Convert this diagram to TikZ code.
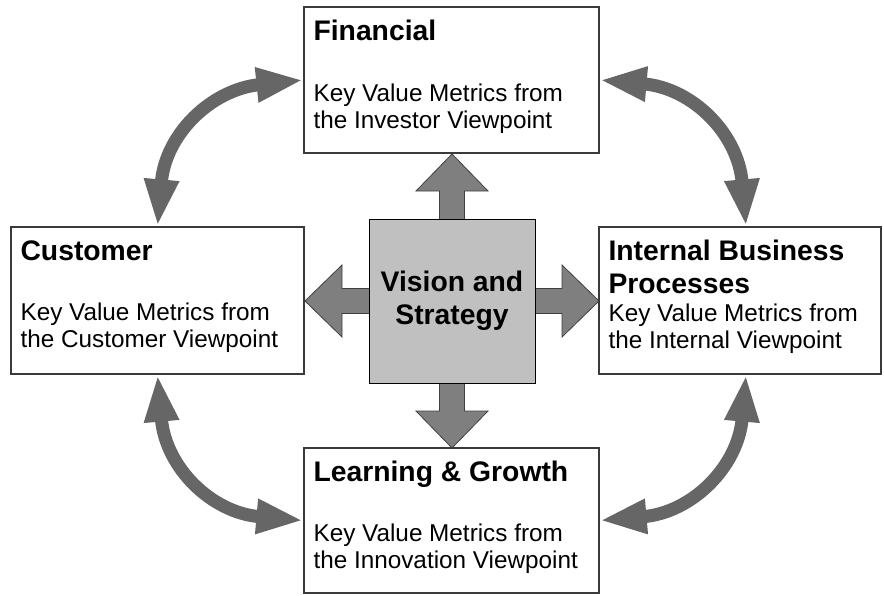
\documentclass[tikz,border=0pt]{standalone}
\usepackage{fontspec}
\setmainfont{Liberation Sans}
\usetikzlibrary{arrows.meta,calc,backgrounds}

\definecolor{boxline}{HTML}{3A3A3A}
\definecolor{arrowgray}{HTML}{7F7F7F}
\definecolor{curvegray}{HTML}{666666}
\definecolor{visgray}{HTML}{C0C0C0}

\newcommand\lines[1]{\begin{tabular}[t]{@{}l@{}}#1\end{tabular}}

\tikzset{
	card/.style={draw=boxline, line width=1.3pt, fill=white, inner sep=0pt},
	heading/.style={anchor=base west, inner sep=0pt, font=\fontsize{28.3}{33}\selectfont\bfseries},
	body/.style={anchor=base west, inner sep=0pt, font=\fontsize{24.3}{27.6}\selectfont},
	blockarrow/.style={fill=arrowgray, draw=black!75, line width=0.8pt},
	link/.style={draw=curvegray, line width=13pt, <->, >={Triangle[length=47pt,width=32pt]}, looseness=1.15},
}

\begin{document}
\begin{tikzpicture}[x=1pt,y=1pt]
	\useasboundingbox (0,0) rectangle (884,-595);

	% the four perspectives
	\node[card, minimum width=295pt, minimum height=146pt] (fin) at (451.5,-80) {};
	\node[card, minimum width=293pt, minimum height=147pt] (cus) at (157.5,-300.5) {};
	\node[card, minimum width=282pt, minimum height=147pt] (ibp) at (740,-300.5) {};
	\node[card, minimum width=295pt, minimum height=145pt] (lrn) at (451.5,-520.5) {};

	\node[heading] (finhead) at ($(fin.north west)+(10,-34)$) {Financial};
	\node[body] (finbody) at ($(fin.north west)+(10,-95)$) {\lines{Key Value Metrics from\\the Investor Viewpoint}};
	\node[heading] (cushead) at ($(cus.north west)+(10,-34)$) {Customer};
	\node[body] (cusbody) at ($(cus.north west)+(10,-94)$) {\lines{Key Value Metrics from\\the Customer Viewpoint}};
	\node[heading] (ibphead) at ($(ibp.north west)+(10,-34)$) {\lines{Internal Business\\Processes}};
	\node[body] (ibpbody) at ($(ibp.north west)+(10,-95)$) {\lines{Key Value Metrics from\\the Internal Viewpoint}};
	\node[heading] (lrnhead) at ($(lrn.north west)+(10,-34)$) {Learning \& Growth};
	\node[body] (lrnbody) at ($(lrn.north west)+(10,-94)$) {\lines{Key Value Metrics from\\the Innovation Viewpoint}};

	% centre
	\node[draw=black, line width=1pt, fill=visgray, minimum width=166pt, minimum height=164pt,
		font=\fontsize{28.3}{33}\selectfont\bfseries, align=center] (vis) at (452,-301) {Vision and\\Strategy};

	\begin{scope}[on background layer]
		\foreach \a in {0,90,180,270} {
			\begin{scope}[shift={(vis.center)}, rotate=\a]
				\draw[blockarrow] (60,12.5) -- (110,12.5) -- (110,36) -- (147,0)
					-- (110,-36) -- (110,-12.5) -- (60,-12.5) -- cycle;
			\end{scope}
		}
	\end{scope}

	% links between perspectives
	\draw[link] (cus.north) to[out=85,in=186] (fin.west);
	\draw[link] (fin.east) to[out=-5,in=95] ([xshift=6pt]ibp.north);
	\draw[link] (cus.south) to[out=-85,in=175] (lrn.west);
	\draw[link] ([xshift=6pt]ibp.south) to[out=265,in=5] (lrn.east);
\end{tikzpicture}
\end{document}
